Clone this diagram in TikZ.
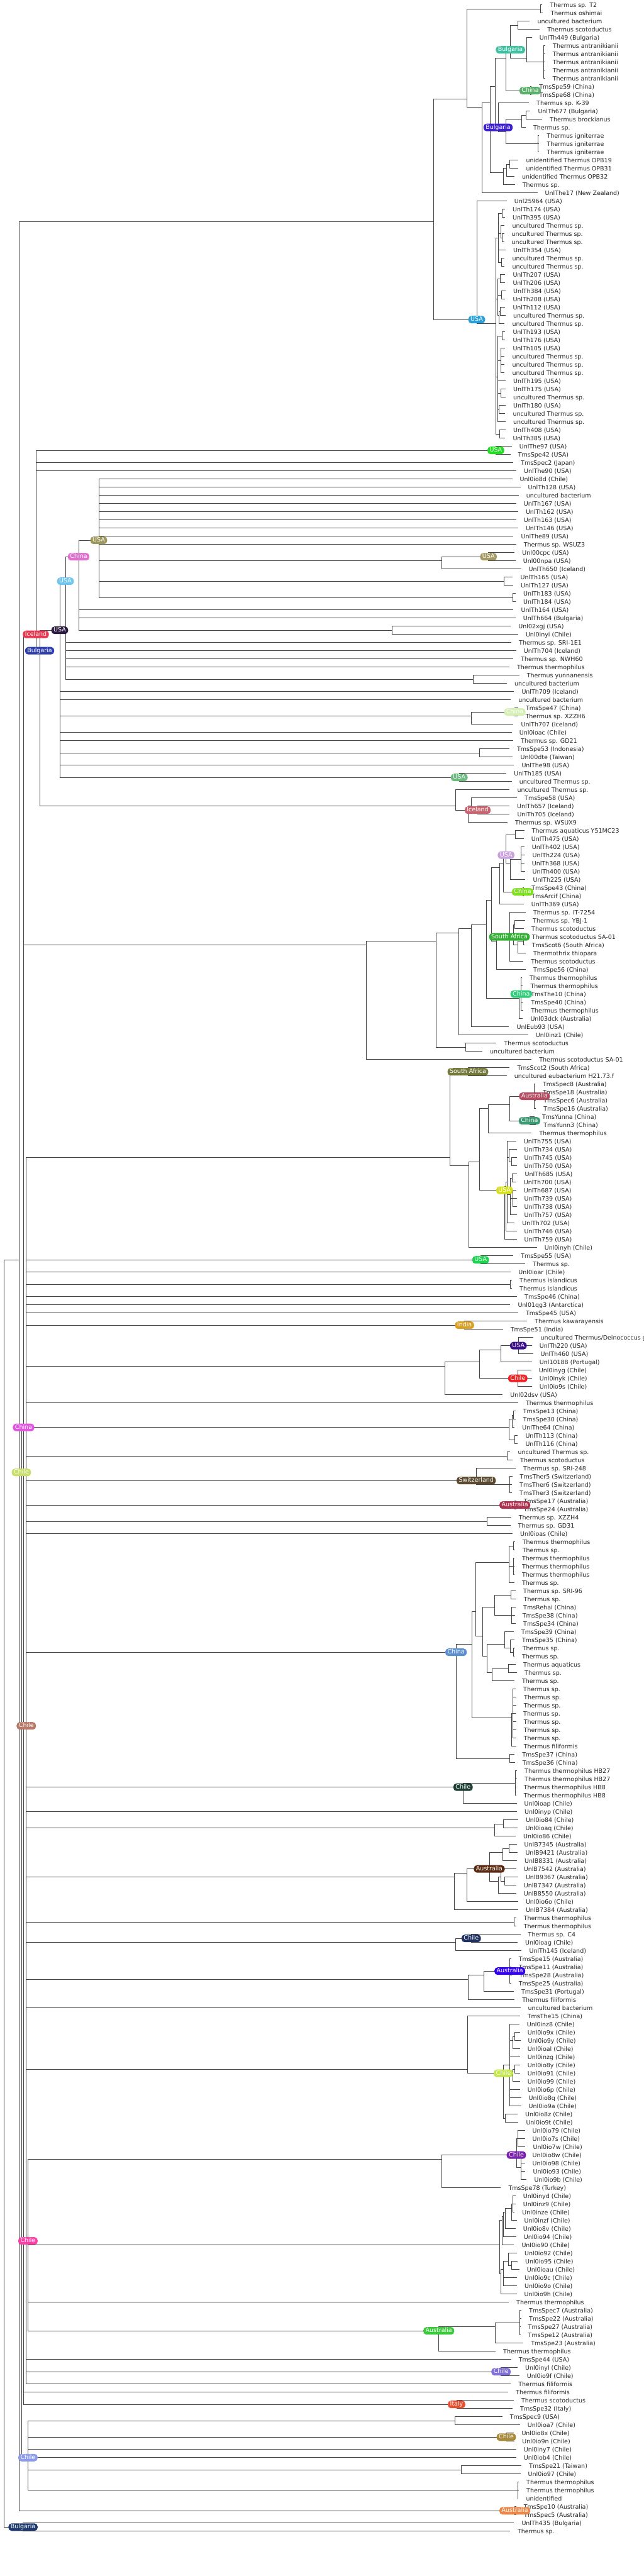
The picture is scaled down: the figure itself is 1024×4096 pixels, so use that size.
\documentclass[tikz,border=0pt]{standalone}
\usepackage{fontspec}
\setmainfont{DejaVu Sans}
\definecolor{cLine}{HTML}{444444}
\definecolor{cBulT}{HTML}{3EC1A0}
\definecolor{cChGa}{HTML}{5BAF6A}
\definecolor{cBulV}{HTML}{3B1ED6}
\definecolor{cUSAc}{HTML}{2A9ED8}
\definecolor{cUSAg}{HTML}{22DD22}
\definecolor{cUSAk}{HTML}{A39A66}
\definecolor{cChP}{HTML}{D6EFB5}
\definecolor{cUSAgb}{HTML}{6DB87F}
\definecolor{cIceR}{HTML}{C86470}
\definecolor{cUSAl}{HTML}{C9A2DD}
\definecolor{cChL}{HTML}{7EE01F}
\definecolor{cSAg}{HTML}{33B033}
\definecolor{cChGc}{HTML}{2FCC7A}
\definecolor{cSAo}{HTML}{757A3C}
\definecolor{cAuR}{HTML}{B84A5F}
\definecolor{cChT}{HTML}{3E9A72}
\definecolor{cUSAy}{HTML}{D5E01B}
\definecolor{cUSAgd}{HTML}{1AD64D}
\definecolor{cInd}{HTML}{D9A021}
\definecolor{cUSAi}{HTML}{3A108C}
\definecolor{cChiR}{HTML}{EE2222}
\definecolor{cSwi}{HTML}{5B4A30}
\definecolor{cAuC}{HTML}{B03050}
\definecolor{cChS}{HTML}{5B8FD0}
\definecolor{cChiDG}{HTML}{1E3D33}
\definecolor{cAuBr}{HTML}{5A2A10}
\definecolor{cChiN}{HTML}{1F3060}
\definecolor{cAuBl}{HTML}{3300EE}
\definecolor{cChiL}{HTML}{C2E84C}
\definecolor{cChiP}{HTML}{7A1FB0}
\definecolor{cAuG}{HTML}{3CC83C}
\definecolor{cChiLv}{HTML}{8070D8}
\definecolor{cIta}{HTML}{E85030}
\definecolor{cChiGd}{HTML}{A88A38}
\definecolor{cAuO}{HTML}{E8884A}
\definecolor{cBulN}{HTML}{1F3A6E}
\definecolor{cLolv}{HTML}{9E975C}
\definecolor{cLpink}{HTML}{E070D0}
\definecolor{cLlb}{HTML}{6EC6EE}
\definecolor{cLdk}{HTML}{2B1B3F}
\definecolor{cLbul}{HTML}{2F3FB0}
\definecolor{cLice}{HTML}{E8364F}
\definecolor{cLmag}{HTML}{E055E0}
\definecolor{cLyg}{HTML}{C8E06A}
\definecolor{cLsal}{HTML}{B87868}
\definecolor{cLpk}{HTML}{FF3FA8}
\definecolor{cLper}{HTML}{8C9CE8}
\newcommand\lf[3]{\coordinate (t#1) at ({#2-12},{7.7+13*#1});\node[lab] (L#1) at (#2,{7.7+13*#1+3.4}) {#3};}
\newcommand\cl[4]{\coordinate (n#1x#2) at (#3,{7.7+13*(#1+#2)/2});\foreach \c in {#4}{\draw[br] (n#1x#2) |- (\c);}}
\newcommand\cb[3]{\node[cbox,fill=#2] (b#1) at (#1) {#3};}
\begin{document}
\begin{tikzpicture}[x=1pt,y=-1pt,
  lab/.style={anchor=base west,inner sep=0pt,font=\fontsize{9.5}{11}\selectfont,text=black!85},
  br/.style={draw=cLine,line width=0.8pt},
  cbox/.style={rounded corners=5pt,text=white,font=\fontsize{9.5}{11}\selectfont,inner xsep=3.5pt,inner ysep=1.5pt,text height=7pt,text depth=2pt}]
\fill[white] (0,0) rectangle (1024,4096);
\useasboundingbox (0,0) rectangle (1024,4096);
% ---------- leaves ----------
\lf{0}{874.4}{Thermus sp. T2}
\lf{1}{875.3}{Thermus oshimai}
\lf{2}{854.4}{uncultured bacterium}
\lf{3}{870.2}{Thermus scotoductus}
\lf{4}{857.7}{UnlTh449 (Bulgaria)}
\lf{5}{879}{Thermus antranikianii}
\lf{6}{878.6}{Thermus antranikianii}
\lf{7}{878.6}{Thermus antranikianii}
\lf{8}{878.6}{Thermus antranikianii}
\lf{9}{878.6}{Thermus antranikianii}
\lf{10}{857.2}{TmsSpe59 (China)}
\lf{11}{857.2}{TmsSpe68 (China)}
\lf{12}{853}{Thermus sp. K-39}
\lf{13}{855.3}{UnlTh677 (Bulgaria)}
\lf{14}{874}{Thermus brockianus}
\lf{15}{847.9}{Thermus sp.}
\lf{16}{869.3}{Thermus igniterrae}
\lf{17}{869.3}{Thermus igniterrae}
\lf{18}{869.3}{Thermus igniterrae}
\lf{19}{836.3}{unidentified Thermus OPB19}
\lf{20}{836.3}{unidentified Thermus OPB31}
\lf{21}{829.8}{unidentified Thermus OPB32}
\lf{22}{830.7}{Thermus sp.}
\lf{23}{866.5}{UnlThe17 (New Zealand)}
\lf{24}{817.7}{Unl25964 (USA)}
\lf{25}{815}{UnlTh174 (USA)}
\lf{26}{815}{UnlTh395 (USA)}
\lf{27}{814.4}{uncultured Thermus sp.}
\lf{28}{813.5}{uncultured Thermus sp.}
\lf{29}{813.5}{uncultured Thermus sp.}
\lf{30}{816}{UnlTh354 (USA)}
\lf{31}{814.4}{uncultured Thermus sp.}
\lf{32}{814.4}{uncultured Thermus sp.}
\lf{33}{815.3}{UnlTh207 (USA)}
\lf{34}{815.3}{UnlTh206 (USA)}
\lf{35}{816}{UnlTh384 (USA)}
\lf{36}{815.3}{UnlTh208 (USA)}
\lf{37}{815.3}{UnlTh112 (USA)}
\lf{38}{816}{uncultured Thermus sp.}
\lf{39}{814.4}{uncultured Thermus sp.}
\lf{40}{815.3}{UnlTh193 (USA)}
\lf{41}{815.3}{UnlTh176 (USA)}
\lf{42}{815.3}{UnlTh105 (USA)}
\lf{43}{814.4}{uncultured Thermus sp.}
\lf{44}{814.4}{uncultured Thermus sp.}
\lf{45}{814.4}{uncultured Thermus sp.}
\lf{46}{816}{UnlTh195 (USA)}
\lf{47}{816}{UnlTh175 (USA)}
\lf{48}{816}{uncultured Thermus sp.}
\lf{49}{816}{UnlTh180 (USA)}
\lf{50}{815.3}{uncultured Thermus sp.}
\lf{51}{816}{uncultured Thermus sp.}
\lf{52}{816}{UnlTh408 (USA)}
\lf{53}{815.3}{UnlTh385 (USA)}
\lf{54}{825.6}{UnlThe97 (USA)}
\lf{55}{823.7}{TmsSpe42 (USA)}
\lf{56}{828}{TmsSpec2 (Japan)}
\lf{57}{833}{UnlThe90 (USA)}
\lf{58}{826.5}{Unl0io8d (Chile)}
\lf{59}{839.5}{UnlTh128 (USA)}
\lf{60}{836.7}{uncultured bacterium}
\lf{61}{832.6}{UnlTh167 (USA)}
\lf{62}{835.8}{UnlTh162 (USA)}
\lf{63}{832.6}{UnlTh163 (USA)}
\lf{64}{835.8}{UnlTh146 (USA)}
\lf{65}{828.4}{UnlThe89 (USA)}
\lf{66}{832.6}{Thermus sp. WSUZ3}
\lf{67}{830.2}{Unl00cpc (USA)}
\lf{68}{831.6}{Unl00npa (USA)}
\lf{69}{840.5}{UnlTh650 (Iceland)}
\lf{70}{827.4}{UnlTh165 (USA)}
\lf{71}{828}{UnlTh127 (USA)}
\lf{72}{832}{UnlTh183 (USA)}
\lf{73}{832}{UnlTh184 (USA)}
\lf{74}{828.4}{UnlTh164 (USA)}
\lf{75}{831.6}{UnlTh664 (Bulgaria)}
\lf{76}{824.2}{Unl02xgj (USA)}
\lf{77}{835.8}{Unl0inyi (Chile)}
\lf{78}{825}{Thermus sp. SRI-1E1}
\lf{79}{832.6}{UnlTh704 (Iceland)}
\lf{80}{828}{Thermus sp. NWH60}
\lf{81}{821.9}{Thermus thermophilus}
\lf{82}{837.7}{Thermus yunnanensis}
\lf{83}{818}{uncultured bacterium}
\lf{84}{829.3}{UnlTh709 (Iceland)}
\lf{85}{824.2}{uncultured bacterium}
\lf{86}{835.8}{TmsSpe47 (China)}
\lf{87}{835.3}{Thermus sp. XZZH6}
\lf{88}{828.4}{UnlTh707 (Iceland)}
\lf{89}{825.6}{Unl0ioac (Chile)}
\lf{90}{828}{Thermus sp. GD21}
\lf{91}{821.9}{TmsSpe53 (Indonesia)}
\lf{92}{827.4}{Unl00dte (Taiwan)}
\lf{93}{829.3}{UnlThe98 (USA)}
\lf{94}{817.2}{UnlTh185 (USA)}
\lf{95}{825.6}{uncultured Thermus sp.}
\lf{96}{822.3}{uncultured Thermus sp.}
\lf{97}{834}{TmsSpe58 (USA)}
\lf{98}{821.9}{UnlTh657 (Iceland)}
\lf{99}{822.3}{UnlTh705 (Iceland)}
\lf{100}{819}{Thermus sp. WSUX9}
\lf{101}{845.6}{Thermus aquaticus Y51MC23}
\lf{102}{844.7}{UnlTh475 (USA)}
\lf{103}{845.6}{UnlTh402 (USA)}
\lf{104}{846.5}{UnlTh224 (USA)}
\lf{105}{845.6}{UnlTh368 (USA)}
\lf{106}{846.5}{UnlTh400 (USA)}
\lf{107}{847.4}{UnlTh225 (USA)}
\lf{108}{845.1}{TmsSpe43 (China)}
\lf{109}{845.1}{TmsArcif (China)}
\lf{110}{844.7}{UnlTh369 (USA)}
\lf{111}{847.9}{Thermus sp. IT-7254}
\lf{112}{847}{Thermus sp. YBJ-1}
\lf{113}{845}{Thermus scotoductus}
\lf{114}{845.6}{Thermus scotoductus SA-01}
\lf{115}{845.6}{TmsScot6 (South Africa)}
\lf{116}{847.9}{Thermothrix thiopara}
\lf{117}{844.2}{Thermus scotoductus}
\lf{118}{847.9}{TmsSpe56 (China)}
\lf{119}{841.9}{Thermus thermophilus}
\lf{120}{843.3}{Thermus thermophilus}
\lf{121}{844.2}{TmsThe10 (China)}
\lf{122}{844.2}{TmsSpe40 (China)}
\lf{123}{844.2}{Thermus thermophilus}
\lf{124}{843.3}{Unl03dck (Australia)}
\lf{125}{821.4}{UnlEub93 (USA)}
\lf{126}{851.6}{Unl0inz1 (Chile)}
\lf{127}{801.4}{Thermus scotoductus}
\lf{128}{779}{uncultured bacterium}
\lf{129}{857.2}{Thermus scotoductus SA-01}
\lf{130}{822.3}{TmsScot2 (South Africa)}
\lf{131}{817.7}{uncultured eubacterium H21.73.f}
\lf{132}{862.8}{TmsSpec8 (Australia)}
\lf{133}{862.8}{TmsSpe18 (Australia)}
\lf{134}{864.2}{TmsSpec6 (Australia)}
\lf{135}{864.2}{TmsSpe16 (Australia)}
\lf{136}{861.9}{TmsYunna (China)}
\lf{137}{864.2}{TmsYunn3 (China)}
\lf{138}{857.2}{Thermus thermophilus}
\lf{139}{832.6}{UnlTh755 (USA)}
\lf{140}{833.5}{UnlTh734 (USA)}
\lf{141}{833.5}{UnlTh745 (USA)}
\lf{142}{833.5}{UnlTh750 (USA)}
\lf{143}{834.4}{UnlTh685 (USA)}
\lf{144}{832.6}{UnlTh700 (USA)}
\lf{145}{832.6}{UnlTh687 (USA)}
\lf{146}{833.5}{UnlTh739 (USA)}
\lf{147}{833.5}{UnlTh738 (USA)}
\lf{148}{833.5}{UnlTh757 (USA)}
\lf{149}{830.2}{UnlTh702 (USA)}
\lf{150}{833.5}{UnlTh746 (USA)}
\lf{151}{833.5}{UnlTh759 (USA)}
\lf{152}{865.6}{Unl0inyh (Chile)}
\lf{153}{828}{TmsSpe55 (USA)}
\lf{154}{847}{Thermus sp.}
\lf{155}{824.2}{Unl0ioar (Chile)}
\lf{156}{826}{Thermus islandicus}
\lf{157}{826}{Thermus islandicus}
\lf{158}{834}{TmsSpe46 (China)}
\lf{159}{823.3}{Unl01qg3 (Antarctica)}
\lf{160}{835.8}{TmsSpe45 (USA)}
\lf{161}{850.2}{Thermus kawarayensis}
\lf{162}{811.6}{TmsSpe51 (India)}
\lf{163}{859.5}{uncultured Thermus/Deinococcus group bacterium}
\lf{164}{857.7}{UnlTh220 (USA)}
\lf{165}{859.5}{UnlTh460 (USA)}
\lf{166}{857.7}{Unl10188 (Portugal)}
\lf{167}{856.7}{Unl0inyg (Chile)}
\lf{168}{857.7}{Unl0inyk (Chile)}
\lf{169}{857.7}{Unl0io9s (Chile)}
\lf{170}{811.2}{Unl02dsv (USA)}
\lf{171}{835.8}{Thermus thermophilus}
\lf{172}{831.6}{TmsSpe13 (China)}
\lf{173}{831.6}{TmsSpe30 (China)}
\lf{174}{830.2}{UnlThe64 (China)}
\lf{175}{835.3}{UnlTh113 (China)}
\lf{176}{835.3}{UnlTh116 (China)}
\lf{177}{823.3}{uncultured Thermus sp.}
\lf{178}{827}{Thermus scotoductus}
\lf{179}{832}{Thermus sp. SRI-248}
\lf{180}{826.5}{TmsTher5 (Switzerland)}
\lf{181}{826}{TmsTher6 (Switzerland)}
\lf{182}{826}{TmsTher3 (Switzerland)}
\lf{183}{832.6}{TmsSpe17 (Australia)}
\lf{184}{832.6}{TmsSpe24 (Australia)}
\lf{185}{824.7}{Thermus sp. XZZH4}
\lf{186}{823.7}{Thermus sp. GD31}
\lf{187}{827}{Unl0ioas (Chile)}
\lf{188}{830.7}{Thermus thermophilus}
\lf{189}{830.7}{Thermus sp.}
\lf{190}{829.8}{Thermus thermophilus}
\lf{191}{829.8}{Thermus thermophilus}
\lf{192}{829.8}{Thermus thermophilus}
\lf{193}{829.8}{Thermus sp.}
\lf{194}{832}{Thermus sp. SRI-96}
\lf{195}{832.6}{Thermus sp.}
\lf{196}{832}{TmsRehai (China)}
\lf{197}{830.7}{TmsSpe38 (China)}
\lf{198}{832}{TmsSpe34 (China)}
\lf{199}{828.8}{TmsSpe39 (China)}
\lf{200}{829.8}{TmsSpe35 (China)}
\lf{201}{830.7}{Thermus sp.}
\lf{202}{829.8}{Thermus sp.}
\lf{203}{832}{Thermus aquaticus}
\lf{204}{834}{Thermus sp.}
\lf{205}{829.8}{Thermus sp.}
\lf{206}{832}{Thermus sp.}
\lf{207}{833}{Thermus sp.}
\lf{208}{832.6}{Thermus sp.}
\lf{209}{832}{Thermus sp.}
\lf{210}{832.6}{Thermus sp.}
\lf{211}{832.6}{Thermus sp.}
\lf{212}{832.6}{Thermus sp.}
\lf{213}{832.6}{Thermus filiformis}
\lf{214}{830.2}{TmsSpe37 (China)}
\lf{215}{830.7}{TmsSpe36 (China)}
\lf{216}{834}{Thermus thermophilus HB27}
\lf{217}{834}{Thermus thermophilus HB27}
\lf{218}{832.6}{Thermus thermophilus HB8}
\lf{219}{832.6}{Thermus thermophilus HB8}
\lf{220}{833.5}{Unl0ioap (Chile)}
\lf{221}{834}{Unl0inyp (Chile)}
\lf{222}{835.8}{Unl0io84 (Chile)}
\lf{223}{835.3}{Unl0ioaq (Chile)}
\lf{224}{832}{Unl0io86 (Chile)}
\lf{225}{833.5}{UnlB7345 (Australia)}
\lf{226}{835.3}{UnlB9421 (Australia)}
\lf{227}{834}{UnlB8331 (Australia)}
\lf{228}{832.6}{UnlB7542 (Australia)}
\lf{229}{835.8}{UnlB9367 (Australia)}
\lf{230}{832.6}{UnlB7347 (Australia)}
\lf{231}{832.6}{UnlB8550 (Australia)}
\lf{232}{835.8}{Unl0io6o (Chile)}
\lf{233}{835.8}{UnlB7384 (Australia)}
\lf{234}{832.6}{Thermus thermophilus}
\lf{235}{832.6}{Thermus thermophilus}
\lf{236}{839.5}{Thermus sp. C4}
\lf{237}{834.9}{Unl0ioag (Chile)}
\lf{238}{841.4}{UnlTh145 (Iceland)}
\lf{239}{824.7}{TmsSpe15 (Australia)}
\lf{240}{824.7}{TmsSpe11 (Australia)}
\lf{241}{825.6}{TmsSpe28 (Australia)}
\lf{242}{824.7}{TmsSpe25 (Australia)}
\lf{243}{828.8}{TmsSpe31 (Portugal)}
\lf{244}{830.2}{Thermus filiformis}
\lf{245}{839.5}{uncultured bacterium}
\lf{246}{838.6}{TmsThe15 (China)}
\lf{247}{837.7}{Unl0inz8 (Chile)}
\lf{248}{838.6}{Unl0io9x (Chile)}
\lf{249}{839.5}{Unl0io9y (Chile)}
\lf{250}{838.6}{Unl0ioal (Chile)}
\lf{251}{838.6}{Unl0inzg (Chile)}
\lf{252}{838.6}{Unl0io8y (Chile)}
\lf{253}{838.6}{Unl0io91 (Chile)}
\lf{254}{838.6}{Unl0io99 (Chile)}
\lf{255}{838.6}{Unl0io6p (Chile)}
\lf{256}{840.5}{Unl0io8q (Chile)}
\lf{257}{840.5}{Unl0io9a (Chile)}
\lf{258}{834.9}{Unl0io8z (Chile)}
\lf{259}{836.3}{Unl0io9t (Chile)}
\lf{260}{846.5}{Unl0io79 (Chile)}
\lf{261}{846.5}{Unl0io7s (Chile)}
\lf{262}{847.4}{Unl0io7w (Chile)}
\lf{263}{846.5}{Unl0io8w (Chile)}
\lf{264}{846.5}{Unl0io98 (Chile)}
\lf{265}{847.4}{Unl0io93 (Chile)}
\lf{266}{849.3}{Unl0io9b (Chile)}
\lf{267}{808.4}{TmsSpe78 (Turkey)}
\lf{268}{831.6}{Unl0inyd (Chile)}
\lf{269}{831.6}{Unl0inz9 (Chile)}
\lf{270}{830.2}{Unl0inze (Chile)}
\lf{271}{833.5}{Unl0inzf (Chile)}
\lf{272}{831.6}{Unl0io8v (Chile)}
\lf{273}{832.6}{Unl0io94 (Chile)}
\lf{274}{829.3}{Unl0io90 (Chile)}
\lf{275}{834}{Unl0io92 (Chile)}
\lf{276}{834.9}{Unl0io95 (Chile)}
\lf{277}{837.7}{Unl0ioau (Chile)}
\lf{278}{834}{Unl0io9c (Chile)}
\lf{279}{834}{Unl0io9o (Chile)}
\lf{280}{833.5}{Unl0io9h (Chile)}
\lf{281}{821}{Thermus thermophilus}
\lf{282}{841}{TmsSpec7 (Australia)}
\lf{283}{841}{TmsSpe22 (Australia)}
\lf{284}{839.5}{TmsSpe27 (Australia)}
\lf{285}{839.5}{TmsSpe12 (Australia)}
\lf{286}{844.2}{TmsSpe23 (Australia)}
\lf{287}{800}{Thermus thermophilus}
\lf{288}{824.7}{TmsSpe44 (USA)}
\lf{289}{834.9}{Unl0inyl (Chile)}
\lf{290}{837.7}{Unl0io9f (Chile)}
\lf{291}{824.2}{Thermus filiformis}
\lf{292}{820}{Thermus filiformis}
\lf{293}{828.8}{Thermus scotoductus}
\lf{294}{827}{TmsSpe32 (Italy)}
\lf{295}{810.7}{TmsSpec9 (USA)}
\lf{296}{838.6}{Unl0ioa7 (Chile)}
\lf{297}{829.3}{Unl0io8x (Chile)}
\lf{298}{830.2}{Unl0io9n (Chile)}
\lf{299}{832.6}{Unl0iny7 (Chile)}
\lf{300}{832.6}{Unl0iob4 (Chile)}
\lf{301}{841}{TmsSpe21 (Taiwan)}
\lf{302}{839.5}{Unl0io97 (Chile)}
\lf{303}{837}{Thermus thermophilus}
\lf{304}{837}{Thermus thermophilus}
\lf{305}{836.3}{unidentified}
\lf{306}{832.6}{TmsSpe10 (Australia)}
\lf{307}{833}{TmsSpec5 (Australia)}
\lf{308}{829.3}{UnlTh435 (Bulgaria)}
\lf{309}{822.8}{Thermus sp.}
% ---------- clade 0-53 ----------
\cl{0}{1}{859}{t0,t1}
\cl{5}{9}{864}{t5,t6,t7,t8,t9}
\cl{4}{9}{837}{t4,n5x9}
\cl{2}{3}{823}{t2,t3}
\cl{2}{9}{811.6}{n2x3,n4x9}
\cl{10}{11}{843}{t10,t11}
\cl{2}{11}{804}{n2x9,n10x11}
\cl{13}{14}{836}{t13,t14}
\cl{13}{15}{829}{n13x14,t15}
\cl{16}{18}{855.8}{t16,t17,t18}
\cl{13}{18}{804.7}{n13x15,n16x18}
\cl{12}{18}{792}{t12,n13x18}
\cl{2}{18}{787.4}{n2x11,n12x18}
\cl{19}{20}{810}{t19,t20}
\cl{19}{21}{805.6}{n19x20,t21}
\cl{19}{22}{800}{n19x21,t22}
\cl{2}{22}{779}{n2x18,n19x22}
\cl{2}{23}{766.5}{n2x22,t23}
\cl{0}{23}{742}{n0x1,n2x23}
\cl{25}{26}{798.6}{t25,t26}
\cl{28}{29}{798.6}{t28,t29}
\cl{27}{29}{796}{t27,n28x29}
\cl{31}{32}{797}{t31,t32}
\cl{25}{32}{792}{n25x26,n27x29,t30,n31x32}
\cl{33}{34}{795}{t33,t34}
\cl{35}{36}{797}{t35,t36}
\cl{37}{38}{795}{t37,t38}
\cl{37}{39}{793}{n37x38,t39}
\cl{33}{39}{791}{n33x34,n35x36,n37x39}
\cl{40}{41}{798.6}{t40,t41}
\cl{42}{45}{796.5}{t42,t43,t44,t45}
\cl{47}{48}{796.5}{t47,t48}
\cl{49}{50}{793.8}{t49,t50}
\cl{40}{51}{791}{n40x41,n42x45,t46,n47x48,n49x50,t51}
\cl{52}{53}{794}{t52,t53}
\cl{25}{53}{788}{n25x32,n33x39,n40x51,n52x53}
\cl{24}{53}{758}{t24,n25x53}
\cl{0}{53}{689}{n0x23,n24x53}
% ---------- 54-100 ----------
\cl{54}{55}{788.4}{t54,t55}
\cl{67}{68}{776.7}{t67,t68}
\cl{67}{69}{702.3}{n67x68,t69}
\cl{70}{71}{801.2}{t70,t71}
\cl{72}{73}{814.9}{t72,t73}
\cl{76}{77}{623.7}{t76,t77}
\cl{82}{83}{752.6}{t82,t83}
\cl{86}{87}{818.6}{t86,t87}
\cl{86}{88}{749.8}{n86x87,t88}
\cl{91}{92}{761.9}{t91,t92}
\cl{94}{95}{730.2}{t94,t95}
\cl{98}{99}{759.5}{t98,t99}
\cl{97}{99}{749.8}{t97,n98x99}
\cl{97}{100}{744.7}{n97x99,t100}
\cl{96}{100}{724.7}{t96,n97x100}
% ---------- 101-129 ----------
\cl{101}{102}{819.5}{t101,t102}
\cl{103}{106}{828.8}{t103,t104,t105,t106}
\cl{103}{107}{811.6}{n103x106,t107}
\cl{101}{107}{804.7}{n101x102,n103x107}
\cl{108}{109}{831}{t108,t109}
\cl{101}{109}{800}{n101x107,n108x109}
\cl{101}{110}{794}{n101x109,t110}
\cl{112}{113}{818.6}{t112,t113}
\cl{114}{115}{832.6}{t114,t115}
\cl{114}{116}{823.3}{n114x115,t116}
\cl{112}{116}{816}{n112x113,n114x116}
\cl{111}{117}{810}{t111,n112x116,t117}
\cl{111}{118}{789.3}{n111x117,t118}
\cl{101}{118}{781.4}{n101x110,n111x118}
\cl{119}{123}{828.8}{t119,t120,t121,t122,t123}
\cl{119}{124}{825.6}{n119x123,t124}
\cl{101}{124}{773.5}{n101x118,n119x124}
\cl{101}{125}{749.8}{n101x124,t125}
\cl{101}{126}{729.8}{n101x125,t126}
\cl{127}{128}{740.5}{t127,t128}
\cl{101}{128}{693.5}{n101x126,n127x128}
\cl{101}{129}{582.3}{n101x128,t129}
% ---------- 130-152 ----------
\cl{130}{131}{744}{t130,t131}
\cl{132}{135}{849.8}{t132,t133,t134,t135}
\cl{136}{137}{841.9}{t136,t137}
\cl{132}{137}{810.2}{n132x135,n136x137}
\cl{132}{138}{776.7}{n132x137,t138}
\cl{141}{142}{813}{t141,t142}
\cl{140}{142}{809.3}{t140,n141x142}
\cl{143}{144}{814}{t143,t144}
\cl{145}{147}{815}{t145,t146,t147}
\cl{143}{148}{811.6}{n143x144,n145x147,t148}
\cl{139}{149}{806}{t139,n140x142,n143x148,t149}
\cl{139}{150}{804.2}{n139x149,t150}
\cl{139}{151}{802.3}{n139x150,t151}
\cl{132}{151}{761.9}{n132x138,n139x151}
\cl{132}{152}{745.6}{n132x151,t152}
\cl{130}{152}{715.3}{n130x131,n132x152}
% ---------- 153-187 ----------
\cl{153}{154}{764.2}{t153,t154}
\cl{156}{157}{811.6}{t156,t157}
\cl{161}{162}{738.6}{t161,t162}
\cl{163}{165}{824.2}{t163,t164,t165}
\cl{163}{166}{796.3}{n163x165,t166}
\cl{167}{169}{823.3}{t167,t168,t169}
\cl{163}{169}{761.9}{n163x166,n167x169}
\cl{163}{170}{707.4}{n163x169,t170}
\cl{172}{173}{816}{t172,t173}
\cl{172}{174}{814}{n172x173,t174}
\cl{175}{176}{818.6}{t175,t176}
\cl{172}{176}{809.3}{n172x174,n175x176}
\cl{177}{178}{806}{t177,t178}
\cl{180}{182}{810.7}{t180,t181,t182}
\cl{179}{182}{757.2}{t179,n180x182}
\cl{183}{184}{818.6}{t183,t184}
\cl{185}{186}{774.4}{t185,t186}
% ---------- 188-215 ----------
\cl{188}{189}{816}{t188,t189}
\cl{190}{192}{816}{t190,t191,t192}
\cl{188}{193}{809.3}{n188x189,n190x192,t193}
\cl{194}{195}{812.6}{t194,t195}
\cl{196}{198}{813}{t196,t197,t198}
\cl{194}{198}{786}{n194x195,n196x198}
\cl{201}{202}{816}{t201,t202}
\cl{200}{202}{811}{t200,n201x202}
\cl{199}{202}{802.3}{t199,n200x202}
\cl{203}{204}{808.4}{t203,t204}
\cl{203}{205}{782.8}{n203x204,t205}
\cl{199}{205}{774.4}{n199x202,n203x205}
\cl{194}{205}{767.4}{n194x198,n199x205}
\cl{188}{205}{756.7}{n188x193,n194x205}
\cl{206}{212}{815}{t206,t207,t208,t209,t210,t211,t212}
\cl{206}{213}{813}{n206x212,t213}
\cl{188}{213}{750.2}{n188x205,n206x213}
\cl{214}{215}{810.7}{t214,t215}
\cl{188}{215}{725.1}{n188x213,n214x215}
% ---------- 216-245 ----------
\cl{216}{219}{819}{t216,t217,t218,t219}
\cl{216}{220}{736.3}{n216x219,t220}
\cl{222}{223}{800}{t222,t223}
\cl{222}{224}{786}{n222x223,t224}
\cl{225}{226}{809.3}{t225,t226}
\cl{225}{227}{799}{n225x226,t227}
\cl{229}{230}{802.3}{t229,t230}
\cl{228}{230}{796.7}{t228,n229x230}
\cl{228}{231}{792}{n228x230,t231}
\cl{225}{231}{778}{n225x227,n228x231}
\cl{225}{232}{742.8}{n225x231,t232}
\cl{225}{233}{722.3}{n225x232,t233}
\cl{234}{235}{817.7}{t234,t235}
\cl{236}{237}{749.3}{t236,t237}
\cl{236}{238}{724.7}{n236x237,t238}
\cl{239}{242}{810.7}{t239,t240,t241,t242}
\cl{239}{243}{769.8}{n239x242,t243}
\cl{239}{244}{744.7}{n239x243,t244}
% ---------- 246-309 ----------
\cl{248}{249}{818}{t248,t249}
\cl{248}{250}{815}{n248x249,t250}
\cl{252}{253}{818}{t252,t253}
\cl{252}{254}{815.5}{n252x253,t254}
\cl{247}{257}{810.7}{t247,n248x250,t251,n252x254,t255,t256,t257}
\cl{258}{259}{803.5}{t258,t259}
\cl{247}{259}{800.5}{n247x257,n258x259}
\cl{246}{259}{743.7}{t246,n247x259}
\cl{260}{262}{823}{t260,t261,t262}
\cl{263}{266}{828}{t263,t264,t265,t266}
\cl{260}{266}{821}{n260x262,n263x266}
\cl{260}{267}{702.3}{n260x266,t267}
\cl{268}{270}{815.5}{t268,t269,t270}
\cl{268}{271}{813}{n268x270,t271}
\cl{268}{272}{803.5}{n268x271,t272}
\cl{268}{273}{800.5}{n268x272,t273}
\cl{268}{274}{798.6}{n268x273,t274}
\cl{276}{277}{813}{t276,t277}
\cl{275}{277}{808.4}{t275,n276x277}
\cl{275}{279}{800}{n275x277,t278,t279}
\cl{275}{280}{796.7}{n275x279,t280}
\cl{268}{280}{794}{n268x274,n275x280}
\cl{282}{285}{826.5}{t282,t283,t284,t285}
\cl{282}{286}{787.4}{n282x285,t286}
\cl{282}{287}{697.7}{n282x286,t287}
\cl{289}{290}{796.7}{t289,t290}
\cl{293}{294}{726}{t293,t294}
\cl{295}{296}{723.7}{t295,t296}
\cl{297}{298}{805}{t297,t298}
\cl{301}{302}{733.5}{t301,t302}
\cl{303}{305}{823.3}{t303,t304,t305}
\cl{306}{307}{818.6}{t306,t307}
% ---------- deep structure ----------
\cl{58}{73}{157}{t58,t59,t60,t61,t62,t63,t64,t65,t66,n67x69,n70x71,n72x73}
\cl{58}{77}{125}{n58x73,t74,t75,n76x77}
\cl{58}{83}{104}{n58x77,t78,t79,t80,t81,n82x83}
\cl{58}{95}{95}{n58x83,t84,t85,n86x88,t89,t90,n91x92,t93,n94x95}
\cl{58}{100}{63}{n58x95,n96x100}
\cl{54}{100}{57}{n54x55,t56,t57,n58x100}
\cl{260}{287}{44.4}{n260x267,n268x280,t281,n282x287}
\cl{130}{291}{41.8}{n130x152,n153x154,t155,n156x157,t158,t159,t160,n161x162,n163x170,t171,n172x176,n177x178,n179x182,n183x184,n185x186,t187,n188x215,n216x220,t221,n222x224,n225x233,n234x235,n236x238,n239x244,t245,n246x259,n260x287,t288,n289x290,t291}
\cl{54}{294}{37.5}{n54x100,n101x129,n130x291,t292,n293x294}
\cl{295}{305}{44.4}{n295x296,n297x298,t299,t300,n301x302,n303x305}
\cl{54}{305}{34}{n54x294,n295x305}
\cl{0}{307}{30}{n0x53,n54x305,n306x307}
\cl{308}{309}{36.6}{t308,t309}
\cl{0}{309}{6}{n0x307,n308x309}
% ---------- clade labels ----------
\cb{n2x9}{cBulT}{Bulgaria}
\cb{n10x11}{cChGa}{China}
\cb{n12x18}{cBulV}{Bulgaria}
\cb{n24x53}{cUSAc}{USA}
\cb{n54x55}{cUSAg}{USA}
\cb{n67x68}{cUSAk}{USA}
\cb{n86x87}{cChP}{China}
\cb{n94x95}{cUSAgb}{USA}
\cb{n98x99}{cIceR}{Iceland}
\cb{n101x107}{cUSAl}{USA}
\cb{n108x109}{cChL}{China}
\cb{n111x117}{cSAg}{South Africa}
\cb{n119x123}{cChGc}{China}
\cb{n130x131}{cSAo}{South Africa}
\cb{n132x135}{cAuR}{Australia}
\cb{n136x137}{cChT}{China}
\cb{n139x151}{cUSAy}{USA}
\cb{n153x154}{cUSAgd}{USA}
\cb{n161x162}{cInd}{India}
\cb{n163x165}{cUSAi}{USA}
\cb{n167x169}{cChiR}{Chile}
\cb{n179x182}{cSwi}{Switzerland}
\cb{n183x184}{cAuC}{Australia}
\cb{n188x215}{cChS}{China}
\cb{n216x220}{cChiDG}{Chile}
\cb{n225x231}{cAuBr}{Australia}
\cb{n236x237}{cChiN}{Chile}
\cb{n239x242}{cAuBl}{Australia}
\cb{n247x259}{cChiL}{Chile}
\cb{n260x266}{cChiP}{Chile}
\cb{n282x287}{cAuG}{Australia}
\cb{n289x290}{cChiLv}{Chile}
\cb{n293x294}{cIta}{Italy}
\cb{n297x298}{cChiGd}{Chile}
\cb{n306x307}{cAuO}{Australia}
\cb{n58x73}{cLolv}{USA}
\cb{n58x77}{cLpink}{China}
\cb{n58x83}{cLlb}{USA}
\cb{n58x95}{cLdk}{USA}
\cb{n58x100}{cLbul}{Bulgaria}
\cb{n54x100}{cLice}{Iceland}
\cb{n54x294}{cLmag}{China}
\cb{n54x305}{cLyg}{Chile}
\cb{n130x291}{cLsal}{Chile}
\cb{n260x287}{cLpk}{Chile}
\cb{n295x305}{cLper}{Chile}
\cb{n308x309}{cBulN}{Bulgaria}
\end{tikzpicture}
\end{document}
